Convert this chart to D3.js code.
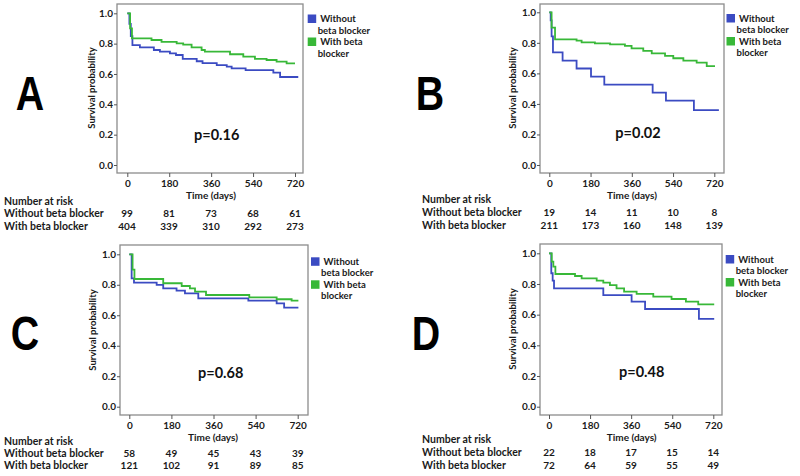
<!DOCTYPE html>
<html><head><meta charset="utf-8">
<script src="https://cdn.jsdelivr.net/npm/d3@7"></script>
<style>body{margin:0;background:#fff}svg{display:block}</style>
</head><body>
<svg id="c" width="800" height="476"></svg>
<script>
// ---- data ----
const panelLetters = ["A", "B", "C", "D"];
const pValues = ["p=0.16", "p=0.02", "p=0.68", "p=0.48"];
const groupNames = ["Without beta blocker", "With beta blocker"];
const xTicks = [0, 180, 360, 540, 720];
const yTicks = [0, 0.2, 0.4, 0.6, 0.8, 1.0];

const A_without = [[0,1],[9,0.93],[15,0.85],[22,0.79],[54,0.776],[114,0.758],[140,0.747],[183,0.736],[209,0.725],[238,0.70],[298,0.684],[323,0.672],[384,0.659],[427,0.648],[448,0.637],[508,0.626],[627,0.609],[656,0.58],[734,0.58]];
const A_with = [[0,1],[12,0.9],[20,0.835],[104,0.824],[147,0.811],[212,0.802],[240,0.793],[276,0.776],[319,0.758],[333,0.747],[441,0.73],[498,0.714],[548,0.70],[598,0.692],[641,0.681],[684,0.67],[720,0.67]];
const B_without = [[0,1],[6,0.947],[10,0.842],[16,0.737],[58,0.684],[119,0.632],[182,0.579],[240,0.526],[451,0.474],[509,0.421],[631,0.36],[740,0.36]];
const B_with = [[0,1],[10,0.9],[25,0.823],[119,0.814],[141,0.803],[199,0.797],[265,0.79],[330,0.78],[359,0.764],[410,0.747],[447,0.731],[505,0.714],[541,0.699],[585,0.683],[643,0.67],[687,0.648],[723,0.648]];
const C_without = [[0,1],[10,0.842],[20,0.814],[117,0.799],[145,0.777],[202,0.761],[238,0.744],[295,0.711],[509,0.696],[630,0.678],[662,0.65],[723,0.65]];
const C_with = [[0,1],[14,0.9],[22,0.838],[145,0.81],[224,0.792],[259,0.777],[281,0.755],[328,0.733],[513,0.718],[630,0.705],[694,0.696],[723,0.696]];
const D_without = [[0,1],[10,0.87],[16,0.822],[22,0.772],[238,0.728],[362,0.685],[421,0.637],[657,0.572],[724,0.572]];
const D_with = [[0,1],[12,0.946],[19,0.913],[28,0.865],[114,0.852],[143,0.837],[209,0.822],[238,0.809],[267,0.793],[296,0.772],[329,0.75],[384,0.735],[457,0.717],[537,0.702],[600,0.685],[654,0.667],[724,0.667]];

const riskA = [[99,81,73,68,61],[404,339,310,292,273]];
const riskB = [[19,14,11,10,8],[211,173,160,148,139]];
const riskC = [[58,49,45,43,39],[121,102,91,89,85]];
const riskD = [[22,18,17,15,14],[72,64,59,55,49]];

// ---- layout ----
const colors = ["#3b4bc2", "#38b838"];
const layouts = [
  {box:[117,303,4,173], x:[127.3,295], y:[165,13.3], letter:[30,110], p:[216.7,139.5], ylab:[92,88], tlab:[211,199], leg:[307.7,14.5], risk:{lx:4, x:[127,169,211,253,295], y:[205,217,229.5]}},
  {box:[540,724,4,173], x:[549.3,714.3], y:[165,12.3], letter:[430,110], p:[638,137.5], ylab:[513,88], tlab:[632,199], leg:[726.5,14], risk:{lx:422, x:[549.3,590.5,631.8,673,714.3], y:[203,216,229]}},
  {box:[120,308,245,415], x:[129.3,297.7], y:[406.7,254.3], letter:[25,350], p:[220.7,378], ylab:[93,330], tlab:[213,441], leg:[311,257.3], risk:{lx:4, x:[129.3,171.4,213.5,255.6,297.7], y:[445,457,469]}},
  {box:[540,722,244,415], x:[549,713.3], y:[406.7,253.3], letter:[426,350], p:[641.7,377], ylab:[513,329], tlab:[631.7,441], leg:[725.7,255], risk:{lx:422, x:[549,590,631,672,713.3], y:[443,456,469]}}
];
const curves = [[A_without,A_with],[B_without,B_with],[C_without,C_with],[D_without,D_with]];
const risks = [riskA, riskB, riskC, riskD];

const svg = d3.select("#c");
const FONT = "Lato, 'Open Sans', sans-serif";
const txt = "#1a1a1a";

layouts.forEach((L, i) => {
  const g = svg.append("g");
  const x = d3.scaleLinear().domain([0,720]).range(L.x);
  const y = d3.scaleLinear().domain([0,1]).range(L.y);
  const [bl,br,bt,bb] = L.box;

  // panel letter
  g.append("text").attr("x", L.letter[0]).attr("y", L.letter[1])
    .attr("text-anchor","middle").attr("font-family","'Liberation Sans', Arial, sans-serif")
    .attr("font-weight","bold").attr("font-size",48)
    .attr("transform", `translate(${L.letter[0]},0) scale(0.82,1) translate(${-L.letter[0]},0)`)
    .attr("fill","#000").text(panelLetters[i]);

  // box
  g.append("rect").attr("x",bl).attr("y",bt).attr("width",br-bl).attr("height",bb-bt)
    .attr("fill","none").attr("stroke","#8c8c8c").attr("stroke-width",1.3);

  // x axis
  const xa = g.append("g").attr("transform",`translate(0,${bb})`)
    .call(d3.axisBottom(x).tickValues(xTicks).tickSize(4).tickPadding(3).tickFormat(d3.format("d")));
  xa.select(".domain").remove();
  xa.selectAll("line").attr("stroke","#555");
  xa.selectAll("text").attr("font-family",FONT).attr("font-weight","bold").attr("font-size",10).attr("fill",txt);

  // y axis
  const ya = g.append("g").attr("transform",`translate(${bl},0)`)
    .call(d3.axisLeft(y).tickValues(yTicks).tickSize(3).tickPadding(1).tickFormat(d3.format(".1f")));
  ya.select(".domain").remove();
  ya.selectAll("line").attr("stroke","#555");
  ya.selectAll("text").attr("font-family",FONT).attr("font-weight","bold").attr("font-size",10).attr("fill",txt);

  // axis titles
  g.append("text").attr("transform",`translate(${L.ylab[0]},${L.ylab[1]}) rotate(-90)`)
    .attr("text-anchor","middle").attr("dy","0.35em").attr("font-family",FONT).attr("font-weight","bold")
    .attr("font-size",9.5).attr("fill",txt).text("Survival probability");
  g.append("text").attr("x",L.tlab[0]).attr("y",L.tlab[1]).attr("text-anchor","middle")
    .attr("font-family",FONT).attr("font-weight","bold").attr("font-size",10).attr("fill",txt).text("Time (days)");

  // curves
  const line = d3.line().x(d=>x(d[0])).y(d=>y(d[1])).curve(d3.curveStepAfter);
  curves[i].forEach((c,k) => {
    g.append("path").attr("d", line(c)).attr("fill","none").attr("stroke",colors[k]).attr("stroke-width",1.8);
  });

  // p value
  g.append("text").attr("x",L.p[0]).attr("y",L.p[1]).attr("text-anchor","middle")
    .attr("font-family",FONT).attr("font-weight","bold").attr("font-size",14.5).attr("fill","#111").text(pValues[i]);

  // legend (wrapped two-line labels)
  const legLines = [["Without","beta blocker"],["With beta","blocker"]];
  legLines.forEach((ln,k) => {
    const lx = L.leg[0], ly = L.leg[1] + k*23;
    g.append("rect").attr("x",lx).attr("y",ly).attr("width",8.5).attr("height",8.5).attr("fill",colors[k]);
    const t = g.append("text").attr("font-family",FONT).attr("font-weight","bold")
      .attr("font-size",9.5).attr("fill",txt);
    t.append("tspan").attr("x",lx+12.5).attr("y",ly+7.5).text(ln[0]);
    t.append("tspan").attr("x",lx+10).attr("y",ly+19).text(ln[1]);
  });

  // risk table
  const R = L.risk;
  g.append("text").attr("x",R.lx).attr("y",R.y[0]).attr("font-family",FONT).attr("font-weight","bold")
    .attr("font-size",10.5).attr("fill",txt).text("Number at risk");
  risks[i].forEach((row,k) => {
    g.append("text").attr("x",R.lx).attr("y",R.y[k+1]).attr("font-family",FONT).attr("font-weight","bold")
      .attr("font-size",10.5).attr("fill",txt).text(groupNames[k]);
    g.selectAll(null).data(row).enter().append("text")
      .attr("x",(d,j)=>R.x[j]).attr("y",R.y[k+1]).attr("text-anchor","middle")
      .attr("font-family",FONT).attr("font-weight","bold").attr("font-size",10).attr("fill",txt)
      .text(d=>d);
  });
});
</script>
</body></html>
